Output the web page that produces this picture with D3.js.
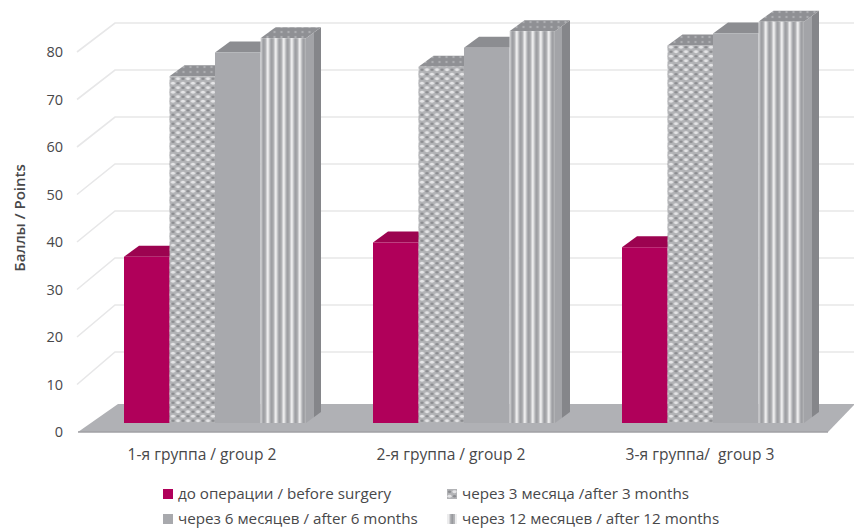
<!DOCTYPE html>
<html>
<head>
<meta charset="utf-8">
<script src="https://cdn.jsdelivr.net/npm/d3@7"></script>
<style>
  html, body { margin: 0; padding: 0; background: #fff; }
  text { font-family: "Open Sans", sans-serif; fill: #48484a; }
</style>
</head>
<body>
<svg id="chart" width="854" height="530"></svg>
<script>
// Scores by patient group and follow-up time
const groups = ["1-я группа / group 2", "2-я группа / group 2", "3-я группа/  group 3"];
const seriesNames = [
  "до операции / before surgery",
  "через 3 месяца /after 3 months",
  "через 6 месяцев / after 6 months",
  "через 12 месяцев / after 12 months"
];
const beforeSurgery = [35, 38, 37];
const after3Months = [73, 75, 79.5];
const after6Months = [78, 79, 82];
const after12Months = [81, 82.5, 84.5];
const seriesValues = [beforeSurgery, after3Months, after6Months, after12Months];
const yTicks = [0, 10, 20, 30, 40, 50, 60, 70, 80];

const svg = d3.select("#chart");
const defs = svg.append("defs");

// Dotted fill: offset rows of pale holes over a mid grey ground
const dots = defs.append("pattern").attr("id", "dots")
  .attr("width", 10).attr("height", 9).attr("patternUnits", "userSpaceOnUse");
dots.append("rect").attr("width", 10).attr("height", 9).attr("fill", "#b2b3b6");
[[2.5, 2.25], [7.5, 6.75]].forEach(([cx, cy]) => {
  dots.append("ellipse").attr("cx", cx).attr("cy", cy).attr("rx", 2.2).attr("ry", 1.4).attr("fill", "#e4e4e6");
});
[[7.5, 2.25], [2.5, 6.75]].forEach(([cx, cy]) => {
  dots.append("ellipse").attr("cx", cx).attr("cy", cy).attr("rx", 1.6).attr("ry", 1.2).attr("fill", "#8b8c90");
});

// Vertical stripes for the front of the last bar
const stripes = defs.append("pattern").attr("id", "stripes")
  .attr("width", 8).attr("height", 10).attr("patternUnits", "userSpaceOnUse");
stripes.append("rect").attr("width", 8).attr("height", 10).attr("fill", "#b3b4b7");
stripes.append("rect").attr("x", 0).attr("width", 2.6).attr("height", 10).attr("fill", "#ececed");
stripes.append("rect").attr("x", 4.4).attr("width", 1.8).attr("height", 10).attr("fill", "#999a9e");

// Two-tone side wall of the last bar
const sideShade = defs.append("linearGradient").attr("id", "sideShade");
[["0%", "#a3a4a8"], ["50%", "#a3a4a8"], ["50%", "#85868a"], ["100%", "#85868a"]].forEach(([o, c]) => {
  sideShade.append("stop").attr("offset", o).attr("stop-color", c);
});

// Dotted roof seen from above
const dotsTop = defs.append("pattern").attr("id", "dotsTop")
  .attr("width", 7).attr("height", 5).attr("patternUnits", "userSpaceOnUse");
dotsTop.append("rect").attr("width", 7).attr("height", 5).attr("fill", "#8f9094");
dotsTop.append("circle").attr("cx", 2).attr("cy", 2).attr("r", 1.2).attr("fill", "#aeafb2");

const x0 = d3.scaleBand().domain(groups).range([90.5, 837.5]);
const x1 = d3.scaleBand().domain(seriesNames).range([33.5, 215.5]);

// One value axis, three projections: tick plane, back wall and bar front
const yDomain = [0, 80];
const yTick = d3.scaleLinear().domain(yDomain).range([432, 52]);
const yWall = d3.scaleLinear().domain(yDomain).range([399, 23]);
const yBar = d3.scaleLinear().domain(yDomain).range([423, 43]);

const wallLeft = 115, wallRight = 854, tickPlaneX = 77;
const depthX = 15, depthY = -11;

// Back wall and side gridlines
const gridColor = "#e7e7e8";
const grid = svg.append("g").attr("fill", "none").attr("stroke", gridColor).attr("stroke-width", 1.6);
yTicks.filter(d => d > 0).forEach(t => {
  grid.append("path").attr("d",
    d3.line()([[tickPlaneX, yTick(t)], [wallLeft, yWall(t)], [wallRight, yWall(t)]]));
});

// Floor
svg.append("polygon")
  .attr("points", [[78, yTick(0)], [118, 404], [854, 404], [854, 405], [828, yTick(0)]].join(" "))
  .attr("fill", "#b0b1b5");
svg.append("line").attr("x1", 78).attr("x2", 828)
  .attr("y1", yTick(0)).attr("y2", yTick(0))
  .attr("stroke", "#a0a1a5").attr("stroke-width", 1.5);

// Extruded bars
const fronts = ["#b0005a", "url(#dots)", "#a8a9ad", "url(#stripes)"];
const tops = ["#9c0350", "url(#dotsTop)", "#8c8d91", "url(#dotsTop)"];
const sides = ["#9c0350", "#8c8d91", "#8c8d91", "url(#sideShade)"];

const barGroups = svg.append("g").selectAll("g").data(groups).join("g")
  .attr("transform", d => `translate(${x0(d)},0)`);

barGroups.each(function (group, gi) {
  const g = d3.select(this);
  seriesNames.forEach((name, si) => {
    const v = seriesValues[si][gi];
    const l = x1(name), r = l + x1.bandwidth();
    const top = yBar(v), base = yBar(0);
    g.append("polygon").attr("fill", sides[si]).attr("points", [
      [r, top], [r + depthX, top + depthY], [r + depthX, base + depthY], [r, base]
    ].join(" "));
    g.append("polygon").attr("fill", tops[si]).attr("points", [
      [l, top], [l + depthX, top + depthY], [r + depthX, top + depthY], [r, top]
    ].join(" "));
    g.append("rect").attr("x", l).attr("y", top)
      .attr("width", x1.bandwidth()).attr("height", base - top)
      .attr("fill", fronts[si]);
  });
});

// Value axis labels
const axis = svg.append("g").attr("transform", "translate(67,0)")
  .call(d3.axisLeft(yTick).tickValues(yTicks).tickSize(0).tickPadding(4));
axis.select(".domain").remove();
axis.selectAll("text").style("font-size", "14.5px").style("font-family", '"Open Sans", sans-serif');

// Axis title
svg.append("text")
  .attr("transform", "translate(25,218) rotate(-90)")
  .attr("text-anchor", "middle")
  .style("font-size", "15px").style("font-weight", "600")
  .text("Баллы / Points");

// Group labels
svg.append("g").selectAll("text").data(groups).join("text")
  .attr("x", d => x0(d) + x0.bandwidth() / 2 - 13)
  .attr("y", 460)
  .attr("text-anchor", "middle")
  .style("white-space", "pre")
  .style("font-size", "15.6px")
  .text(d => d);

// Legend
const legendX = d3.scalePoint().domain([0, 1]).range([163, 447]);
const legendY = d3.scalePoint().domain([0, 1]).range([494, 519]);
const swatches = ["#b0005a", "url(#dots)", "#a8a9ad", "url(#stripes)"];
const legend = svg.append("g").selectAll("g").data(seriesNames).join("g")
  .attr("transform", (d, i) => `translate(${legendX(i % 2)},${legendY(Math.floor(i / 2))})`);
legend.append("rect").attr("y", -5).attr("width", 10).attr("height", 10)
  .attr("fill", (d, i) => swatches[i]);
legend.append("text").attr("x", 15).attr("y", 5)
  .style("font-size", "15.2px")
  .text(d => d);
</script>
</body>
</html>
